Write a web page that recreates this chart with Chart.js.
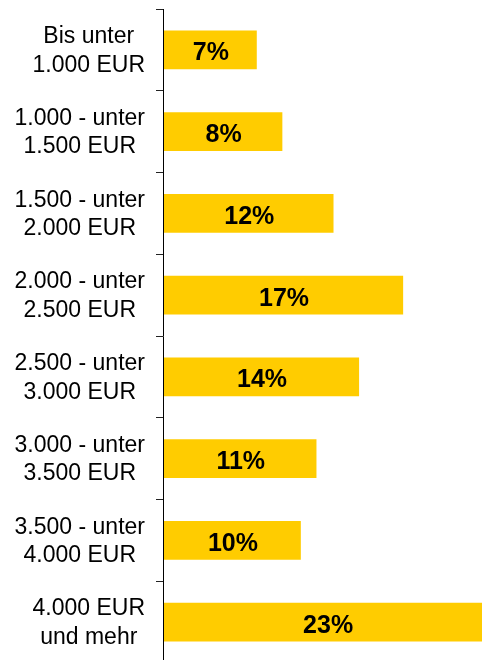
<!DOCTYPE html>
<html>
<head>
<meta charset="utf-8">
<script src="https://cdn.jsdelivr.net/npm/chart.js@4/dist/chart.umd.min.js"></script>
<style>
  html, body { margin: 0; padding: 0; background: #fff; overflow: hidden; }
  canvas { display: block; }
</style>
</head>
<body>
<canvas id="chart" width="482" height="663"></canvas>
<script>
// ─── Data ────────────────────────────────────────────────
const categories = [
  ['Bis unter', '1.000 EUR'],
  ['1.000 - unter', '1.500 EUR'],
  ['1.500 - unter', '2.000 EUR'],
  ['2.000 - unter', '2.500 EUR'],
  ['2.500 - unter', '3.000 EUR'],
  ['3.000 - unter', '3.500 EUR'],
  ['3.500 - unter', '4.000 EUR'],
  ['4.000 EUR', 'und mehr']
];
const shares = [6.6, 8.4, 12.0, 16.9, 13.8, 10.8, 9.7, 23.1];
const xMax = 22.45;

const BAR_COLOR = '#FFCC00';
const FONT = '"Liberation Sans", Arial, sans-serif';

// ─── Category labels (block right-aligned, lines centred) ─
const categoryLabels = {
  id: 'categoryLabels',
  afterDraw(chart) {
    const { ctx } = chart;
    const scale = chart.scales.y;
    const size = 23, lineH = 28.5, cap = size * 0.716;
    const right = 145;
    ctx.save();
    ctx.font = `${size}px ${FONT}`;
    ctx.fillStyle = '#000';
    ctx.textAlign = 'center';
    ctx.textBaseline = 'alphabetic';
    categories.forEach((lines, i) => {
      const yc = scale.getPixelForValue(i) - 0.7;
      const w = Math.max(...lines.map(l => ctx.measureText(l).width));
      const cx = right - w / 2;
      const top = yc - (lines.length - 1) * lineH / 2 + cap / 2;
      lines.forEach((l, j) => ctx.fillText(l, cx, top + j * lineH));
    });
    ctx.restore();
  }
};

// ─── Value labels inside bars ────────────────────────────
const valueLabels = {
  id: 'valueLabels',
  afterDatasetsDraw(chart) {
    const { ctx } = chart;
    const size = 25, cap = size * 0.716;
    ctx.save();
    ctx.font = `bold ${size}px ${FONT}`;
    ctx.fillStyle = '#000';
    ctx.textAlign = 'center';
    ctx.textBaseline = 'alphabetic';
    chart.getDatasetMeta(0).data.forEach((bar, i) => {
      const cx = (bar.x + bar.base) / 2 + 1;
      ctx.fillText(Math.round(shares[i]) + '%', cx, bar.y + cap / 2 + 1.5);
    });
    ctx.restore();
  }
};

new Chart(document.getElementById('chart'), {
  type: 'bar',
  data: {
    labels: categories,
    datasets: [{
      data: shares,
      backgroundColor: BAR_COLOR,
      borderWidth: 0,
      categoryPercentage: 1,
      barPercentage: 0.475
    }]
  },
  options: {
    indexAxis: 'y',
    responsive: false,
    animation: false,
    layout: { padding: { top: 9, right: 0, bottom: 0, left: 0 } },
    plugins: { legend: { display: false }, tooltip: { enabled: false } },
    scales: {
      x: { display: false, min: 0, max: xMax },
      y: {
        afterFit: s => { s.width = 163; },
        ticks: { display: false },
        grid: {
          offset: true,
          drawOnChartArea: false,
          drawTicks: true,
          tickLength: 7,
          color: '#222',
          lineWidth: 1
        },
        border: { display: true, color: '#000', width: 1, z: 1 }
      }
    }
  },
  plugins: [categoryLabels, valueLabels]
});
</script>
</body>
</html>
